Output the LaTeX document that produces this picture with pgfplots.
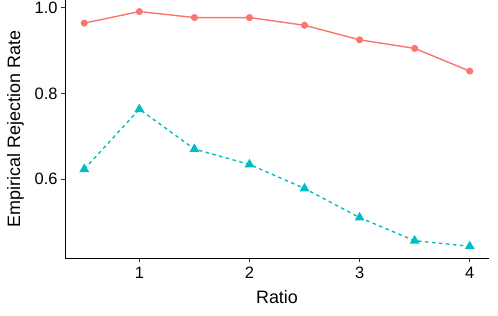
\documentclass[border=0pt]{standalone}
\usepackage{pgfplots}
\pgfplotsset{compat=1.18}
\usepackage{fontspec}
\setmainfont{Liberation Sans}
\definecolor{gred}{HTML}{F8766D}
\definecolor{gcyan}{HTML}{00BFC4}
\begin{document}
\begin{tikzpicture}
\begin{axis}[
  scale only axis,
  width=424bp, height=258bp,
  xmin=0.325, xmax=4.175,
  ymin=0.4156, ymax=1.018,
  axis x line*=bottom, axis y line*=left,
  axis line style={line width=0.8bp, black},
  xtick={1,2,3,4}, ytick={0.6,0.8,1.0},
  yticklabels={0.6,0.8,1.0},
  tick style={line width=0.8bp, black!80},
  tick align=outside, major tick length=4bp,
  /pgf/number format/assume math mode=true,
  ticklabel style={font=\fontsize{16.5}{19}\selectfont, black},
  xticklabel style={yshift=-2bp},
  xlabel={Ratio}, ylabel={Empirical Rejection Rate},
  label style={font=\fontsize{18}{21}\selectfont},
  xlabel style={yshift=-5bp},
  ylabel style={yshift=4bp},
  clip=false,
]
\addplot[color=gred, line width=1.4bp, mark=*, mark size=2.8bp, mark options={solid}] coordinates {
(0.5,0.964) (1,0.991) (1.5,0.977) (2,0.977) (2.5,0.959) (3,0.925) (3.5,0.905) (4,0.852)
};
\addplot[color=gcyan, line width=1.4bp, dash pattern=on 3.5bp off 3.5bp, mark=triangle*, mark size=4.3bp, mark options={solid}] coordinates {
(0.5,0.623) (1,0.763) (1.5,0.670) (2,0.634) (2.5,0.578) (3,0.510) (3.5,0.456) (4,0.443)
};
\end{axis}
\pgfresetboundingbox
\path ([shift={(-65bp,-58bp)}]current axis.south west) rectangle ([shift={(9bp,0bp)}]current axis.north east);
\end{tikzpicture}
\end{document}
